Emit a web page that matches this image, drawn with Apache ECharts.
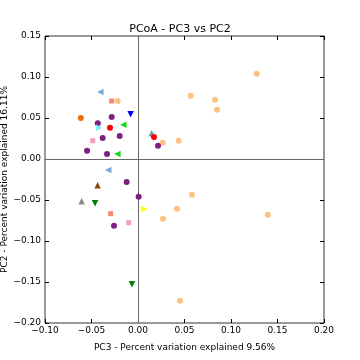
<!DOCTYPE html>
<html><head><meta charset="utf-8">
<script src="https://cdn.jsdelivr.net/npm/echarts@6/dist/echarts.min.js"></script>
<style>html,body{margin:0;padding:0;background:#fff}#c{width:360px;height:360px}</style>
</head><body><div id="c"></div>
<script>
const xTicks = [-0.10,-0.05,0.00,0.05,0.10,0.15,0.20];
const yTicks = [-0.20,-0.15,-0.10,-0.05,0.00,0.05,0.10,0.15];
const darkOrangeCircles = [[-0.0615,0.050]];
const lightOrangeCircles = [[-0.0218,0.0707],[0.1276,0.104],[0.0566,0.0772],[0.0828,0.0723],[0.0849,0.0601],[0.0265,0.0199],[0.0437,0.0223],[0.058,-0.0435],[0.0419,-0.0606],[0.0269,-0.0728],[0.1395,-0.068],[0.0452,-0.1728]];
const purpleCircles = [[-0.0283,0.0512],[-0.0432,0.0435],[-0.038,0.0256],[-0.0197,0.028],[-0.0548,0.0101],[-0.0333,0.0061],[0.0215,0.0162],[-0.0122,-0.028],[0.0007,-0.046],[-0.0258,-0.0813]];
const redCircles = [[-0.0301,0.038],[0.0172,0.0268]];
const salmonSquares = [[-0.0283,0.0707],[-0.0294,-0.0667]];
const pinkSquares = [[-0.0487,0.0223],[-0.010,-0.0777]];
const lightBlueLeft = [[-0.0405,0.0817],[-0.032,-0.0134]];
const blueDown = [[-0.0079,0.0545]];
const limeLeft = [[-0.0158,0.0418],[-0.0222,0.0061]];
const darkGreenDown = [[-0.0462,-0.054],[-0.0065,-0.1528]];
const cyanRight = [[-0.0416,0.038]];
const tealUp = [[0.0147,0.0313]];
const brownUp = [[-0.0434,-0.032]];
const grayUp = [[-0.0606,-0.0516]];
const yellowRight = [[0.0068,-0.061]];

const groups = [
  {d: lightOrangeCircles, c:'#fdc283', s:'circle', r:0, z:6},
  {d: darkOrangeCircles, c:'#ec6e08', s:'circle', r:0, z:6},
  {d: purpleCircles, c:'#7e1f84', s:'circle', r:0, z:6},
  {d: redCircles, c:'#ff0000', s:'circle', r:0, z:6},
  {d: salmonSquares, c:'#f58b6c', s:'rect', r:0, z:5},
  {d: pinkSquares, c:'#f59bc4', s:'rect', r:0, z:5},
  {d: lightBlueLeft, c:'#7ca7dc', s:'triangle', r:90, z:7},
  {d: blueDown, c:'#0000ff', s:'triangle', r:180, z:7},
  {d: limeLeft, c:'#1ad41a', s:'triangle', r:90, z:7},
  {d: darkGreenDown, c:'#008000', s:'triangle', r:180, z:7},
  {d: cyanRight, c:'#80f4f4', s:'triangle', r:-90, z:7},
  {d: tealUp, c:'#5aa8a2', s:'triangle', r:0, z:5},
  {d: brownUp, c:'#8b4a14', s:'triangle', r:0, z:7},
  {d: grayUp, c:'#8a8a8a', s:'triangle', r:0, z:7},
  {d: yellowRight, c:'#ffff00', s:'triangle', r:-90, z:7}
];

const fmt = v => (v < 0 ? '\u2212' : '') + Math.abs(v).toFixed(2);
const font = 'DejaVu Sans';
const series = groups.map(g => ({
  type:'scatter', data:g.d, symbol:g.s, symbolRotate:g.r,
  symbolSize: g.s==='rect'?5:(g.s==='circle'?6:6.5),
  itemStyle:{color:g.c, opacity:1}, z:g.z, silent:true
}));
series.push({
  type:'scatter', data:[], silent:true,
  markLine:{silent:true, symbol:['none','none'], label:{show:false},
    lineStyle:{color:'#666', width:1, type:'solid'},
    data:[{xAxis:0},{yAxis:0}]}, z:1
});
const tick = {show:true, inside:true, length:4, lineStyle:{color:'#000'}};
const chart = echarts.init(document.getElementById('c'));
chart.setOption({
  animation:false,
  backgroundColor:'#fff',
  title:{text:'PCoA - PC3 vs PC2', left:'center', top:19,
    textStyle:{fontFamily:font, fontSize:11, fontWeight:'normal', color:'#000'}},
  grid:{left:45, right:36, top:36, bottom:37, show:true, borderColor:'#333', borderWidth:1,
    containLabel:false, outerBoundsMode:'none'},
  xAxis:[{type:'value', min:-0.10, max:0.20, interval:0.05,
    name:'PC3 - Percent variation explained 9.56%', nameLocation:'middle', nameGap:20,
    nameMoveOverlap:false,
    nameTextStyle:{fontFamily:font, fontSize:9, color:'#000'},
    axisLine:{show:false, onZero:false}, splitLine:{show:false}, axisTick:tick,
    axisLabel:{formatter:fmt, fontFamily:font, fontSize:9, color:'#000', margin:3}},
    {type:'value', position:'top', min:-0.10, max:0.20, interval:0.05,
    axisLine:{show:false, onZero:false}, splitLine:{show:false}, axisLabel:{show:false}, axisTick:tick}],
  yAxis:[{type:'value', min:-0.20, max:0.15, interval:0.05,
    name:'PC2 - Percent variation explained 16.11%', nameLocation:'middle', nameGap:36,
    nameMoveOverlap:false,
    nameTextStyle:{fontFamily:font, fontSize:9, color:'#000'},
    axisLine:{show:false, onZero:false}, splitLine:{show:false}, axisTick:tick,
    axisLabel:{formatter:fmt, fontFamily:font, fontSize:9, color:'#000', margin:4}},
    {type:'value', position:'right', min:-0.20, max:0.15, interval:0.05,
    axisLine:{show:false, onZero:false}, splitLine:{show:false}, axisLabel:{show:false}, axisTick:tick}],
  series: series
});
</script></body></html>
